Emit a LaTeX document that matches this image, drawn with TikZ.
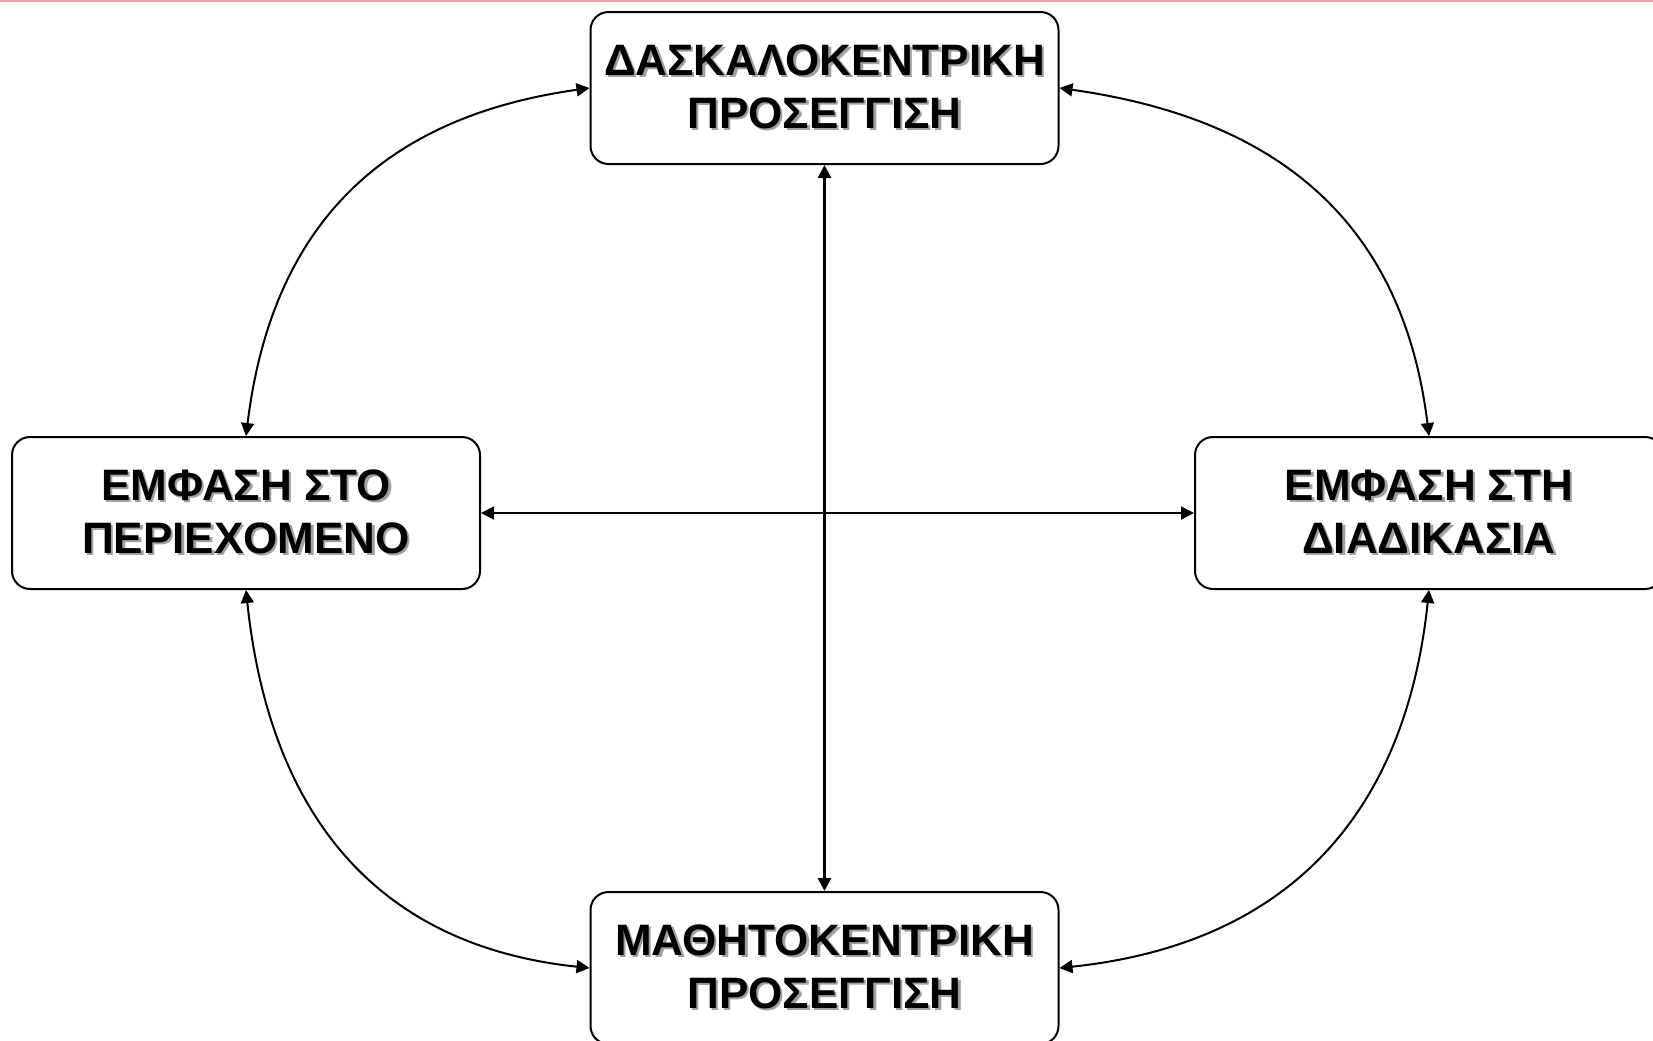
\documentclass[tikz,border=0pt]{standalone}
\usepackage{fontspec}
\setmainfont{Liberation Sans}
\usetikzlibrary{arrows.meta}
\definecolor{pinkline}{RGB}{228,168,168}
\definecolor{shadowgray}{RGB}{160,160,160}
\newcommand{\shtxt}[1]{\leavevmode\rlap{\kern1.2pt\raisebox{-1.2pt}{\textcolor{shadowgray}{#1}}}#1}
\tikzset{
  box/.style={draw=black, line width=1pt, rounded corners=9pt, fill=white,
    minimum width=234pt, minimum height=76pt, align=center,
    font=\fontsize{22}{26.5}\selectfont\bfseries, inner sep=0pt},
  link/.style={line width=1pt, {Triangle[length=6.5pt,width=6.5pt]}-{Triangle[length=6.5pt,width=6.5pt]}},
}
\begin{document}
\begin{tikzpicture}[x=0.5pt,y=0.5pt]
\useasboundingbox (0,0) rectangle (1653,-1040);
\fill[white] (0,0) rectangle (1653,-1040);
\draw[pinkline, line width=1pt] (0,-0.6) -- (1653,-0.6);
\node[box] (top) at (824.5,-88) {\shtxt{ΔΑΣΚΑΛΟΚΕΝΤΡΙΚΗ}\\\shtxt{ΠΡΟΣΕΓΓΙΣΗ}};
\node[box] (left) at (246,-513) {\shtxt{ΕΜΦΑΣΗ ΣΤΟ}\\\shtxt{ΠΕΡΙΕΧΟΜΕΝΟ}};
\node[box] (right) at (1429,-513) {\shtxt{ΕΜΦΑΣΗ ΣΤΗ}\\\shtxt{ΔΙΑΔΙΚΑΣΙΑ}};
\node[box] (bottom) at (824.5,-968) {\shtxt{ΜΑΘΗΤΟΚΕΝΤΡΙΚΗ}\\\shtxt{ΠΡΟΣΕΓΓΙΣΗ}};
\draw[link, line width=1.4pt] (top.south) -- (bottom.north);
\draw[link] (left.east) -- (right.west);
\draw[link] (top.west) to[out=188, in=83, looseness=1.1] (left.north);
\draw[link] (top.east) to[out=-8, in=97, looseness=1.1] (right.north);
\draw[link] (left.south) to[out=-84, in=174, looseness=1.1] (bottom.west);
\draw[link] (right.south) to[out=-96, in=6, looseness=1.1] (bottom.east);
\end{tikzpicture}
\end{document}
